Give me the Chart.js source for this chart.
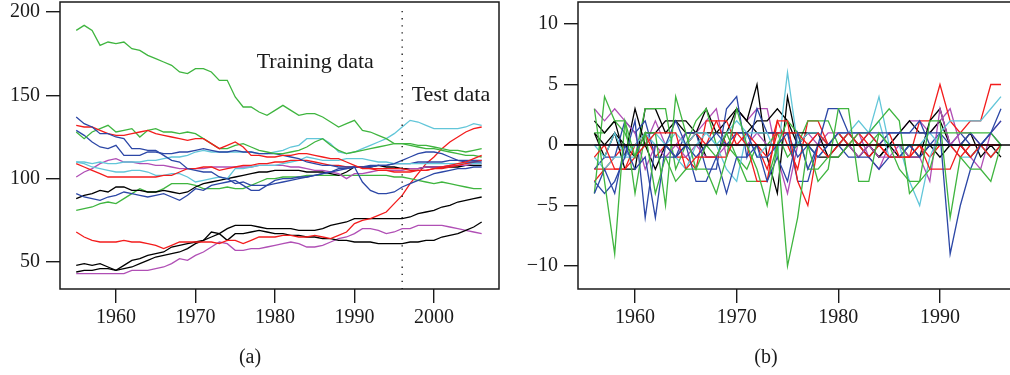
<!DOCTYPE html>
<html>
<head>
<meta charset="utf-8">
<script src="https://cdn.jsdelivr.net/npm/chart.js@4.4.0/dist/chart.umd.min.js"></script>
<style>
  html, body { margin: 0; padding: 0; background: #fff; overflow: hidden; }
  #wrap { position: relative; width: 1010px; height: 375px; overflow: hidden; }
  #left { position: absolute; left: 0; top: 0; width: 505px; height: 375px; }
  #right { position: absolute; left: 505px; top: 0; width: 520px; height: 375px; }
</style>
</head>
<body>
<div id="wrap">
  <div id="left"><canvas id="chartA"></canvas></div>
  <div id="right"><canvas id="chartB"></canvas></div>
</div>
<script>
// years
const yearsA = [1955,1956,1957,1958,1959,1960,1961,1962,1963,1964,1965,1966,1967,1968,1969,1970,1971,1972,1973,1974,
  1975,1976,1977,1978,1979,1980,1981,1982,1983,1984,1985,1986,1987,1988,1989,1990,1991,1992,1993,1994,
  1995,1996,1997,1998,1999,2000,2001,2002,2003,2004,2005,2006];
const yearsB = [1956,1957,1958,1959,1960,1961,1962,1963,1964,1965,1966,1967,1968,1969,1970,1971,1972,1973,1974,1975,
  1976,1977,1978,1979,1980,1981,1982,1983,1984,1985,1986,1987,1988,1989,1990,1991,1992,1993,1994,1995,1996];

// tick labels
const xTicksA = [1960, 1970, 1980, 1990, 2000];
const yTicksA = [50, 100, 150, 200];
const xTicksB = [1960, 1970, 1980, 1990];
const yTicksB = [-10, -5, 0, 5, 10];
const splitYear = 1996;

// panel (a): series levels 1955-2006
const g1 = [189,192,189,180,182,181,182,178,177,174,172,170,168,164,163,166,166,164,159,159,149,143,143,140,138,141,144,141,138,139,139,137,134,131,133,135,129,128,126,124,121,121,121,120,120,119,118,117,117,116,117,118];
const b1 = [137,133,131,127,127,125,124,118,118,117,117,114,111,110,106,105,104,104,101,100,97,98,96,96,96,97,98,99,100,101,102,103,104,105,106,107,98,93,91,91,92,95,97,99,101,103,104,105,106,106,107,107];
const r1 = [132,131,131,129,127,126,126,127,128,129,127,126,125,124,123,124,124,121,118,120,122,119,114,114,113,113,114,114,115,115,114,113,112,112,110,108,106,106,105,105,104,104,104,105,105,106,107,108,109,110,112,114];
const g2 = [128,124,128,130,132,128,129,130,125,129,130,128,128,127,128,127,124,121,118,118,120,121,119,117,116,115,115,116,117,119,122,124,120,117,115,116,117,118,119,120,121,121,120,119,118,118,117,116,115,114,114,113];
const b2 = [129,126,122,119,118,120,114,114,114,116,116,115,115,116,116,117,118,117,116,116,117,116,116,115,115,115,114,113,112,110,109,108,108,107,107,107,107,107,108,108,109,111,113,115,116,116,115,113,111,110,110,110];
const c1 = [110,110,109,110,109,109,110,110,110,111,111,112,113,113,114,116,117,116,116,116,116,116,116,115,115,116,117,119,120,124,124,124,121,116,115,116,118,120,122,124,127,131,135,134,132,130,130,130,130,131,133,132];
const r2 = [109,107,105,103,101,101,101,101,101,101,101,102,102,104,106,106,107,107,105,106,107,108,108,109,109,110,110,111,111,111,110,109,108,108,107,107,107,106,106,106,106,106,105,105,105,106,106,107,108,109,110,111];
const c2 = [110,109,107,106,105,104,104,105,105,104,102,102,103,103,101,98,99,100,101,100,106,106,107,108,108,108,109,110,111,113,112,111,111,111,112,112,112,111,110,110,109,109,109,109,109,109,109,109,109,109,109,109];
const m1 = [101,104,106,109,111,112,110,110,109,109,108,108,107,106,106,106,106,107,107,107,107,107,107,108,108,108,108,107,107,106,105,105,104,103,100,103,103,104,105,105,105,105,106,106,107,107,107,108,108,108,109,109];
const b3 = [91,89,88,87,89,90,92,91,90,89,90,91,89,87,90,94,93,96,97,98,99,96,93,93,96,99,100,100,101,101,102,103,104,106,106,107,107,108,108,108,109,109,109,110,110,110,110,111,111,111,111,111];
const k1 = [88,90,91,93,92,95,95,93,93,92,92,93,92,91,92,95,97,98,99,100,101,102,103,104,104,105,105,105,105,104,104,104,103,102,104,107,107,107,108,107,107,106,106,106,107,107,107,107,107,108,108,108];
const g3 = [81,82,83,85,86,85,88,91,94,92,92,94,97,97,97,96,94,94,94,95,94,94,96,98,100,100,101,101,101,102,102,102,102,102,102,102,102,102,102,102,101,101,100,99,98,97,98,97,96,95,94,94];
const r3 = [68,65,63,62,62,62,63,62,62,61,60,58,60,62,62,62,62,62,61,63,63,61,63,65,65,65,66,66,65,65,66,65,64,66,68,73,75,76,78,80,85,90,97,103,109,113,118,122,125,128,130,131];
const k2 = [48,49,48,49,47,45,48,51,52,54,55,56,59,60,61,62,63,65,67,70,72,72,72,71,70,70,70,70,69,69,69,70,72,73,74,76,76,76,76,76,76,76,77,79,80,81,83,84,86,87,88,89];
const k3 = [44,45,45,46,46,45,46,47,49,51,53,54,55,56,58,61,63,68,67,63,67,67,68,69,68,67,67,66,66,65,65,64,64,63,63,62,62,62,61,61,61,61,62,62,63,63,65,66,67,69,71,74];
const m2 = [43,43,43,43,43,43,43,45,45,45,46,47,49,52,51,54,56,59,62,61,57,57,58,58,59,60,61,62,61,59,59,60,62,64,65,67,70,70,69,67,68,70,70,72,72,72,72,71,70,69,68,67];

// panel (b): year-on-year changes 1956-1996
const dg1 = [3,-3,-9,2,-1,1,-4,-1,-3,-2,-2,-2,-4,-1,3,0,-2,-5,0,-10,-6,0,-3,-2,3,3,-3,-3,1,0,-2,-3,-3,2,2,-6,-1,-2,-2,-3,0];
const db1 = [-4,-2,-4,0,-2,-1,-6,0,-1,0,-3,-3,-1,-4,-1,-1,0,-3,-1,-3,1,-2,0,0,1,1,1,1,1,1,1,1,1,1,1,-9,-5,-2,0,1,3];
const dr1 = [-1,0,-2,-2,-1,0,1,1,1,-2,-1,-1,-1,-1,1,0,-3,-3,2,2,-3,-5,0,-1,0,1,0,1,0,-1,-1,-1,0,-2,-2,-2,0,-1,0,-1,0];
const dg2 = [-4,4,2,2,-4,1,1,-5,4,1,-2,0,-1,1,-1,-3,-3,-3,0,2,1,-2,-2,-1,-1,0,1,1,2,3,2,-4,-3,-2,1,1,1,1,1,1,0];
const db2 = [-3,-4,-3,-1,2,-6,0,0,2,0,-1,0,1,0,1,1,-1,-1,0,1,-1,0,-1,0,0,-1,-1,-1,-2,-1,-1,0,-1,0,0,0,0,1,0,1,2];
const dc1 = [0,-1,1,-1,0,1,0,0,1,0,1,1,0,1,2,1,-1,0,0,0,0,0,-1,0,1,1,2,1,4,0,0,-3,-5,-1,1,2,2,2,2,3,4];
const dr2 = [-2,-2,-2,-2,0,0,0,0,0,0,1,0,2,2,0,1,0,-2,1,1,1,0,1,0,1,0,1,0,0,-1,-1,-1,0,-1,0,0,-1,0,0,0,0];
const dc2 = [-1,-2,-1,-1,-1,0,1,0,-1,-2,0,1,0,-2,-3,1,1,1,-1,6,0,1,1,0,0,1,1,1,2,-1,-1,0,0,1,0,0,-1,-1,0,-1,0];
const dm1 = [3,2,3,2,1,-2,0,-1,0,-1,0,-1,-1,0,0,0,1,0,0,0,0,0,1,0,0,0,-1,0,-1,-1,0,-1,-1,-3,3,0,1,1,0,0,0];
const db3 = [-2,-1,-1,2,1,2,-1,-1,-1,1,1,-2,-2,3,4,-1,3,1,1,1,-3,-3,0,3,3,1,0,1,0,1,1,1,2,0,1,0,1,0,0,1,0];
const dk1 = [2,1,2,-1,3,0,-2,0,-1,0,1,-1,-1,1,3,2,1,1,1,1,1,1,1,0,1,0,0,0,-1,0,0,-1,-1,2,3,0,0,1,-1,0,-1];
const dg3 = [1,1,2,1,-1,3,3,3,-2,0,2,3,0,0,-1,-2,0,0,1,-1,0,2,2,2,0,1,0,0,1,0,0,0,0,0,0,0,0,0,0,-1,0];
const dr3 = [-3,-2,-1,0,0,1,-1,0,-1,-1,-2,2,2,0,0,0,0,-1,2,0,-2,2,2,0,0,1,0,-1,0,1,-1,-1,2,2,5,2,1,2,2,5,5];
const dk2 = [1,-1,1,-2,-2,3,3,1,2,1,1,3,1,1,1,1,2,2,3,2,0,0,-1,-1,0,0,0,-1,0,0,1,2,1,1,2,0,0,0,0,0,0];
const dk3 = [1,0,1,0,-1,1,1,2,2,2,1,1,1,2,3,2,5,-1,-4,4,0,1,1,-1,-1,0,-1,0,-1,0,-1,0,-1,0,-1,0,0,-1,0,0,0];
const dm2 = [0,0,0,0,0,0,2,0,0,1,1,2,3,-1,3,2,3,3,-1,-4,0,1,0,1,1,1,1,-1,-2,0,1,2,2,1,2,3,0,-1,-2,1,2];

const GREEN = '#3fb53f', RED = '#f31c1c', BLUE = '#2c47a6', CYAN = '#62c6d9', MAGENTA = '#b04fb5', BLACK = '#000000';

const seriesA = [
  [g1, GREEN], [b1, BLUE], [r1, RED], [g2, GREEN], [b2, BLUE], [c1, CYAN], [r2, RED], [c2, CYAN],
  [m1, MAGENTA], [b3, BLUE], [k1, BLACK], [g3, GREEN], [r3, RED], [k2, BLACK], [k3, BLACK], [m2, MAGENTA]
];
const seriesB = [
  [dg1, GREEN], [db1, BLUE], [dr1, RED], [dg2, GREEN], [db2, BLUE], [dc1, CYAN], [dr2, RED], [dc2, CYAN],
  [dm1, MAGENTA], [db3, BLUE], [dk1, BLACK], [dg3, GREEN], [dr3, RED], [dk2, BLACK], [dk3, BLACK], [dm2, MAGENTA]
];

const SERIF = '"Liberation Serif", "Times New Roman", serif';
const TEXT = '#1a1a1a';

function makeDatasets(series, years) {
  return series.map(([vals, color]) => ({
    data: years.map((yr, i) => ({ x: yr, y: vals[i] })),
    borderColor: color,
    borderWidth: 1.3,
    pointRadius: 0,
    fill: false,
    tension: 0
  }));
}

function axis(ticksArr, min, max, fitKey, fitVal, pad) {
  return {
    type: 'linear',
    min: min,
    max: max,
    afterBuildTicks: s => { s.ticks = ticksArr.map(v => ({ value: v })); },
    afterFit: s => {
      s[fitKey] = fitVal;
      s.paddingTop = 0; s.paddingBottom = 0; s.paddingLeft = 0; s.paddingRight = 0;
    },
    border: { display: false },
    grid: { drawOnChartArea: false, tickLength: 14, color: TEXT, lineWidth: 1.4 },
    ticks: {
      autoSkip: false, maxRotation: 0, padding: pad, color: TEXT,
      font: { family: SERIF, size: 20 },
      callback: v => v < 0 ? '\u2212' + Math.abs(v) : String(v)
    }
  };
}

const boxPlugin = {
  id: 'box',
  afterDraw(chart) {
    const { ctx, chartArea: a } = chart;
    ctx.save();
    ctx.strokeStyle = TEXT;
    ctx.lineWidth = 1.5;
    ctx.strokeRect(a.left, a.top, a.right - a.left, a.bottom - a.top);
    ctx.restore();
  }
};

new Chart(document.getElementById('chartA'), {
  type: 'line',
  data: { datasets: makeDatasets(seriesA, yearsA) },
  options: {
    responsive: true, maintainAspectRatio: false, animation: false,
    layout: { padding: { top: 2, right: 6, left: 0, bottom: 0 } },
    plugins: { legend: { display: false }, tooltip: { enabled: false } },
    scales: {
      x: axis(xTicksA, 1952.96, 2008.18, 'height', 86, 3),
      y: axis(yTicksA, 33.8, 206, 'width', 60, 6)
    }
  },
  plugins: [boxPlugin, {
    id: 'notes',
    afterDraw(chart) {
      const { ctx, chartArea: a, scales: { x, y } } = chart;
      ctx.save();
      const xs = x.getPixelForValue(splitYear);
      ctx.strokeStyle = '#111';
      ctx.lineWidth = 1.3;
      ctx.setLineDash([1.3, 5.8]);
      ctx.beginPath();
      ctx.moveTo(xs, a.top + 9);
      ctx.lineTo(xs, a.bottom);
      ctx.stroke();
      ctx.setLineDash([]);
      ctx.fillStyle = TEXT;
      ctx.font = '22px ' + SERIF;
      ctx.textAlign = 'left';
      ctx.textBaseline = 'alphabetic';
      ctx.fillText('Training data', x.getPixelForValue(1977.7), y.getPixelForValue(166.4));
      ctx.fillText('Test data', x.getPixelForValue(1997.2), y.getPixelForValue(146.6));
      ctx.font = '20px ' + SERIF;
      ctx.textAlign = 'center';
      ctx.textBaseline = 'middle';
      ctx.fillText('(a)', 250, 358);
      ctx.restore();
    }
  }]
});

new Chart(document.getElementById('chartB'), {
  type: 'line',
  data: { datasets: makeDatasets(seriesB, yearsB) },
  options: {
    responsive: true, maintainAspectRatio: false, animation: false,
    layout: { padding: { top: 2, right: 10, left: 0, bottom: 0 } },
    plugins: { legend: { display: false }, tooltip: { enabled: false } },
    scales: {
      x: axis(xTicksB, 1954.39, 1997.38, 'height', 86, 3),
      y: axis(yTicksB, -11.9, 11.82, 'width', 73, 6)
    }
  },
  plugins: [boxPlugin, {
    id: 'zero',
    afterDatasetsDraw(chart) {
      const { ctx, chartArea: a, scales: { y } } = chart;
      const y0 = y.getPixelForValue(0);
      ctx.save();
      ctx.strokeStyle = BLACK;
      ctx.lineWidth = 1.6;
      ctx.beginPath();
      ctx.moveTo(a.left - 14, y0);
      ctx.lineTo(a.right, y0);
      ctx.stroke();
      ctx.restore();
    },
    afterDraw(chart) {
      const { ctx } = chart;
      ctx.save();
      ctx.fillStyle = TEXT;
      ctx.font = '20px ' + SERIF;
      ctx.textAlign = 'center';
      ctx.textBaseline = 'middle';
      ctx.fillText('(b)', 261, 358);
      ctx.restore();
    }
  }]
});
</script>
</body>
</html>
